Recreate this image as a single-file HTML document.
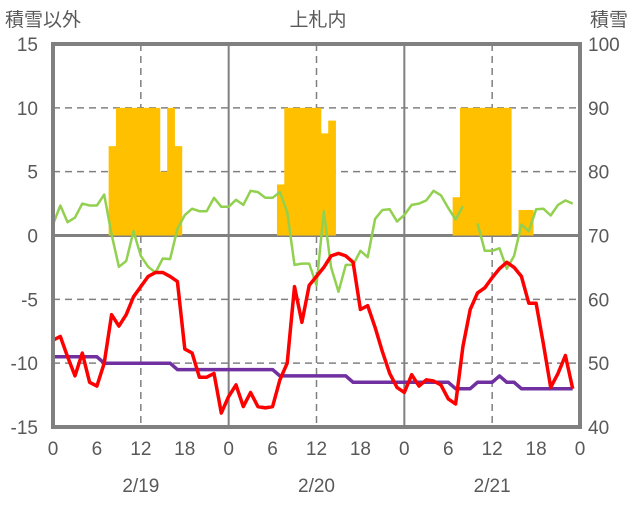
<!DOCTYPE html>
<html><head><meta charset="utf-8"><style>
body{margin:0;background:#fff;}
svg text{font-family:"Liberation Sans","Noto Sans CJK JP",sans-serif;fill:#595959;}
</style></head><body>
<svg id="chart" width="636" height="501" xmlns="http://www.w3.org/2000/svg">
<text x="5" y="26" font-size="19">積雪以外</text>
<text x="318" y="26" font-size="19" text-anchor="middle">上札内</text>
<text x="590" y="26" font-size="19">積雪</text>
<g id="grid"></g><g id="bars"></g><g id="lines"></g><g id="axes"></g>
</svg>
<script>
const hourLabels=["0","6","12","18","0","6","12","18","0","6","12","18","0"];
const dateLabels=["2/19","2/20","2/21"];
const leftTicks=[15,10,5,0,-5,-10,-15];
const rightTicks=[100,90,80,70,60,50,40];
const temp=[-8.2,-7.9,-9.5,-11.0,-9.2,-11.5,-11.8,-10.0,-6.2,-7.1,-6.2,-4.8,-4.0,-3.2,-2.9,-2.9,-3.2,-3.6,-8.9,-9.2,-11.1,-11.1,-10.8,-13.9,
-12.6,-11.7,-13.4,-12.3,-13.4,-13.5,-13.4,-11.3,-10.0,-4.0,-6.8,-3.9,-3.2,-2.5,-1.6,-1.4,-1.6,-2.1,-5.8,-5.5,-7.2,-9.1,-10.8,-11.9,
-12.3,-10.9,-11.8,-11.3,-11.4,-11.7,-12.8,-13.2,-8.7,-5.8,-4.5,-4.1,-3.3,-2.6,-2.1,-2.5,-3.2,-5.3,-5.3,-8.5,-11.9,-10.8,-9.4,-12.0];
const green=[0.86,2.35,1.04,1.4,2.5,2.35,2.35,3.2,0.08,-2.45,-2.0,0.34,-1.6,-2.45,-2.9,-1.8,-1.85,0.52,1.6,2.1,1.9,1.9,2.95,2.25,
2.25,2.8,2.4,3.5,3.4,2.95,2.95,3.4,1.83,-2.3,-2.2,-2.2,-3.9,1.9,-2.5,-4.4,-2.3,-2.3,-1.2,-1.7,1.3,2.0,2.05,1.1,
1.6,2.4,2.5,2.75,3.5,3.15,2.15,1.25,2.3,null,0.94,-1.2,-1.2,-1.0,-2.6,-1.6,0.86,0.34,2.05,2.1,1.57,2.4,2.75,2.5];
const snow=[51,51,51,51,51,51,51,50,50,50,50,50,50,50,50,50,50,49,49,49,49,49,49,49,
49,49,49,49,49,49,49,48,48,48,48,48,48,48,48,48,48,47,47,47,47,47,47,47,
47,47,47,47,47,47,47,46,46,46,47,47,47,48,47,47,46,46,46,46,46,46,46,46];
const precip=[0,0,0,0,0,0,0,0,7,10,10,10,10,10,10,5,10,7,0,0,0,0,0,0,
0,0,0,0,0,0,0,4,10,10,10,10,10,8,9,0,0,0,0,0,0,0,0,0,
0,0,0,0,0,0,0,3,10,10,10,10,10,10,10,0,2,2,0,0,0,0,0,0];
const X0=53,X1=580,Y0=44,Y1=427,HOURS=72;
const xs=h=>X0+(X1-X0)*h/HOURS;
const yL=v=>Y0+(15-v)*(Y1-Y0)/30;
const yR=v=>Y0+(100-v)*(Y1-Y0)/60;
const NS="http://www.w3.org/2000/svg";
function mk(parent,tag,attrs){const e=document.createElementNS(NS,tag);for(const k in attrs)e.setAttribute(k,attrs[k]);document.getElementById(parent).appendChild(e);return e;}
// grid
leftTicks.forEach(v=>{if(v===15||v===-15)return;
const l=mk('grid','line',{x1:X0,x2:X1,y1:yL(v),y2:yL(v),stroke:'#808080','stroke-width':v===0?3:1.5,'stroke-dasharray':v===0?'none':'7,5'});

});
for(let d=0;d<3;d++){
 if(d>0){const l=mk('grid','line',{x1:xs(d*24),x2:xs(d*24),y1:Y0,y2:Y1,stroke:'#808080','stroke-width':2});
 
 }
 const m=mk('grid','line',{x1:xs(d*24+12),x2:xs(d*24+12),y1:Y0,y2:Y1,stroke:'#808080','stroke-width':1.5,'stroke-dasharray':'7,5'});
 
 
}
// bars
const bw=(X1-X0)/HOURS;
precip.forEach((v,h)=>{if(!v)return;
const r=mk('bars','rect',{x:xs(h-0.4),y:yL(v),width:bw+0.4,height:yL(0)-yL(v),fill:'#FFC000'});

});
// lines
function path(arr,fy){let d='',pen=false;arr.forEach((v,h)=>{if(v===null){pen=false;return;}d+=(pen?'L':'M')+xs(h).toFixed(1)+' '+fy(v).toFixed(1)+' ';pen=true;});return d;}
const g=mk('lines','path',{d:path(green,yL),fill:'none',stroke:'#92D050','stroke-width':2.5,'stroke-linejoin':'round'});


const p=mk('lines','path',{d:path(snow,yR),fill:'none',stroke:'#7030A0','stroke-width':3.5,'stroke-linejoin':'round'});


const t=mk('lines','path',{d:path(temp,yL),fill:'none',stroke:'#FF0000','stroke-width':3.5,'stroke-linejoin':'round'});


// frame
const f=mk('axes','rect',{x:X0,y:Y0,width:X1-X0,height:Y1-Y0,fill:'none',stroke:'#808080','stroke-width':4});


leftTicks.forEach(v=>{const e=mk('axes','text',{x:38,y:yL(v)+7,'font-size':19,'text-anchor':'end'});e.textContent=v;

});
rightTicks.forEach(v=>{const e=mk('axes','text',{x:588,y:yR(v)+7,'font-size':19});e.textContent=v;

});
hourLabels.forEach((s,i)=>{const e=mk('axes','text',{x:xs(i*6),y:455,'font-size':19,'text-anchor':'middle'});e.textContent=s;

});
dateLabels.forEach((s,i)=>{const e=mk('axes','text',{x:xs(i*24+12),y:492,'font-size':19,'text-anchor':'middle'});e.textContent=s;

});
</script>
</body></html>
